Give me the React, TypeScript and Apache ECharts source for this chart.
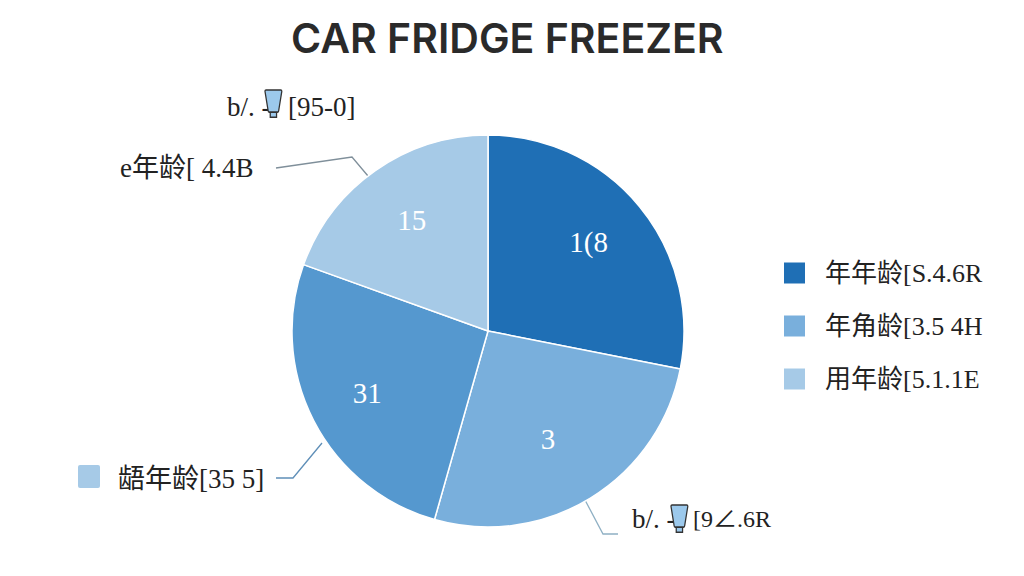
import React, { useEffect, useRef } from "react";
import * as echarts from "echarts";

const titleText = "CAR FRIDGE FREEZER";
const sliceNames = ["年年龄[S.4.6R", "年角龄[3.5 4H", "龉年龄[35 5]", "用年龄[5.1.1E"];
const sliceShares = [28.1, 26.3, 26.1, 19.5];
const sliceLabels = ["1(8", "3", "31", "15"];
const sliceColors = ["#1F6FB5", "#79AFDC", "#5598CF", "#A6CAE7"];
const legendNames = ["年年龄[S.4.6R", "年角龄[3.5 4H", "用年龄[5.1.1E"];

const SERIF = '"Liberation Serif", "Noto Sans CJK SC", serif';
const INK = "#222";

echarts.graphic.registerShape(
  "bulbIcon",
  echarts.graphic.extendPath("M1 0L15 0Q16 0 16 1L13 16Q13 17 12 17L4 17Q3 17 3 16L0 1Q0 0 1 0ZM5 17L5 21L11 21L11 17", {}) as any
);

function txt(x: number, y: number, text: string, size = 27) {
  return {
    type: "text",
    x,
    y,
    style: { text, fill: INK, font: `${size}px ${SERIF}`, textVerticalAlign: "middle", textAlign: "left" },
  };
}
function bulb(x: number, y: number) {
  return {
    type: "bulbIcon",
    x,
    y,
    scaleX: 1.05,
    scaleY: 1.3,
    style: { fill: "#9CC9EC", stroke: "#333", lineWidth: 1.2 },
  };
}
function poly(points: number[][], stroke: string) {
  return { type: "polyline", shape: { points }, style: { stroke, lineWidth: 1.3, fill: "none" } };
}

export default function App() {
  const ref = useRef<HTMLDivElement>(null);
  useEffect(() => {
    const chart = echarts.init(ref.current!, null, { renderer: "svg" });
    const nudges = [
      [-6, -1],
      [-12, -10],
      [2, -1],
      [3, 2],
    ];
    chart.setOption({
      animation: false,
      backgroundColor: "#fff",
      title: {
        text: titleText,
        left: 291,
        top: 17,
        padding: 0,
        textStyle: { fontFamily: "Inter, sans-serif", fontSize: 41, fontWeight: 600, color: "#2a2a2a" },
      },
      legend: {
        orient: "vertical",
        left: 782,
        top: 260,
        padding: 0,
        data: legendNames,
        itemWidth: 23,
        itemHeight: 23,
        itemGap: 27,
        icon: "rect",
        selectedMode: false,
        textStyle: { fontFamily: SERIF, fontSize: 26, color: INK, padding: [0, 0, 0, 14] },
      },
      series: [
        {
          type: "pie",
          center: [488, 331],
          radius: [0, 196],
          startAngle: 90,
          clockwise: true,
          silent: true,
          label: { show: false },
          labelLine: { show: false },
          itemStyle: { borderColor: "#fff", borderWidth: 1.5 },
          data: sliceNames.map((name, i) => ({
            name,
            value: sliceShares[i],
            itemStyle: { color: sliceColors[i] },
          })),
        },
        {
          type: "pie",
          center: [488, 331],
          radius: [74, 196],
          startAngle: 90,
          clockwise: true,
          silent: true,
          itemStyle: { color: "rgba(0,0,0,0)" },
          labelLine: { show: false },
          labelLayout: (p: any) => ({ dx: nudges[p.dataIndex][0], dy: nudges[p.dataIndex][1] }),
          label: {
            show: true,
            position: "inside",
            fontFamily: SERIF,
            fontSize: 29,
            color: "#fff",
            formatter: (p: any) => sliceLabels[p.dataIndex],
          },
          data: sliceNames.map((name, i) => ({ name: name + " ", value: sliceShares[i] })),
        },
      ],
      graphic: [
        txt(227, 107, "b/. -"),
        bulb(265, 90),
        txt(288, 107, "[95-0]"),
        txt(120, 168, "e年龄[ 4.4B"),
        poly([[276, 168], [352, 157], [368, 176]], "#7f8f9a"),
        { type: "rect", shape: { x: 78, y: 465, width: 22, height: 23, r: 2 }, style: { fill: "#A6CAE7" } },
        txt(118, 479, "龉年龄[35 5]"),
        poly([[276, 478], [293, 478], [322, 443]], "#5f8fb8"),
        txt(632, 519, "b/. -"),
        bulb(671, 505),
        txt(693, 519, "[9∠.6R", 24),
        poly([[585, 500], [603, 534], [618, 534]], "#8fb0c4"),
      ],
    });
    return () => chart.dispose();
  }, []);
  return <div ref={ref} style={{ position: "fixed", left: 0, top: 0, width: 1024, height: 576 }} />;
}
